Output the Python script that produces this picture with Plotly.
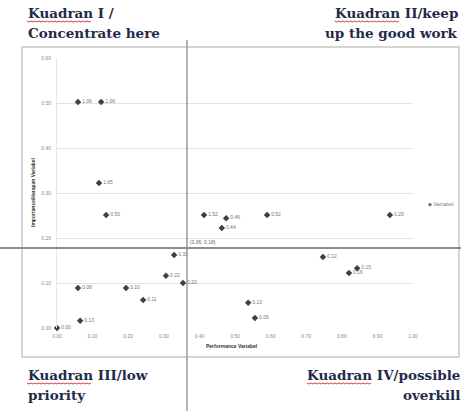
import plotly.graph_objects as go

# ---- data ----
perf = [0.059, 0.124, 0.118, 0.138, 0.413, 0.475, 0.463, 0.590, 0.935,
        0.329, 0.306, 0.354, 0.059, 0.194, 0.242, 0.065, 0.000,
        0.747, 0.820, 0.843, 0.537, 0.556]
imp = [0.502, 0.502, 0.322, 0.251, 0.251, 0.244, 0.222, 0.251, 0.251,
       0.162, 0.116, 0.100, 0.089, 0.089, 0.062, 0.016, 0.000,
       0.158, 0.122, 0.133, 0.056, 0.022]
point_labels = ["1.06", "1.06", "1.65", "0.50", "1.52", "0.46", "0.44", "0.52", "0.29",
                "0.32", "0.22", "0.20", "0.08", "0.10", "0.11", "0.13", "0.00",
                "0.12", "0.16", "0.15", "0.13", "0.05"]
mean_perf = 0.365
mean_imp = 0.178
mean_label = "(0.36, 0.18)"
x_ticks = [0.0, 0.1, 0.2, 0.3, 0.4, 0.5, 0.6, 0.7, 0.8, 0.9, 1.0]
y_ticks = [0.0, 0.1, 0.2, 0.3, 0.4, 0.5, 0.6]
quadrant_lines = [["Kuadran I /", "Concentrate here"],
                  ["Kuadran II/keep", "up the good work"],
                  ["Kuadran III/low", "priority"],
                  ["Kuadran IV/possible", "overkill"]]
series_name = "Variabel"
x_title = "Performance Variabel"
y_title = "Importance/Harapan Variabel"

X_RANGE = [0, 1.0]
Y_RANGE = [0, 0.6]

W, H = 461, 411
ML, MR, MT, MB = 57, 48, 58, 83
PW, PH = W - ML - MR, H - MT - MB


def px(xpix):
    return (xpix - ML) / PW


def py(ypix):
    return (H - MB - ypix) / PH


fig = go.Figure()
fig.add_trace(go.Scatter(
    x=perf, y=imp, mode="markers+text", name=series_name,
    text=point_labels, textposition="middle right",
    textfont=dict(size=5, color="#777777", family="Liberation Sans"),
    marker=dict(symbol="diamond", size=5, color="#404040"),
    cliponaxis=False,
))
fig.add_trace(go.Scatter(
    x=[mean_perf], y=[mean_imp], mode="markers+text", showlegend=False,
    text=[mean_label], textposition="top right",
    textfont=dict(size=5, color="#666666", family="Liberation Sans"),
    marker=dict(symbol="diamond", size=3, color="#666666"),
    cliponaxis=False,
))

shapes = []
# outer chart box
shapes.append(dict(type="rect", xref="paper", yref="paper",
                   x0=px(22), x1=px(459), y0=py(357), y1=py(47),
                   line=dict(color="#c8c8c8", width=1.5), fillcolor="rgba(0,0,0,0)", layer="below"))
# quadrant divider lines through the means
xm = (mean_perf - X_RANGE[0]) / (X_RANGE[1] - X_RANGE[0])
ym = (mean_imp - Y_RANGE[0]) / (Y_RANGE[1] - Y_RANGE[0])
shapes.append(dict(type="line", xref="paper", yref="paper",
                   x0=px(0), x1=px(461), y0=ym, y1=ym,
                   line=dict(color="#8c8c8c", width=2)))
shapes.append(dict(type="line", xref="paper", yref="paper",
                   x0=xm, x1=xm, y0=py(411), y1=py(40),
                   line=dict(color="#9a9a9a", width=1.5)))

FS = 13.5
title_font = dict(family="DejaVu Serif", size=FS, color="#1f2a4a")
# (left/right anchor x, anchor side, centre y of line 1, centre y of line 2)
placements = [(27, "left", 13, 33), (459, "right", 13, 33),
              (27, "left", 375, 395), (461, "right", 375, 395)]
annotations = []
for lines, (ax, side, y1, y2) in zip(quadrant_lines, placements):
    for txt, yy in zip(lines, (y1, y2)):
        annotations.append(dict(text="<b>%s</b>" % txt, xref="paper", yref="paper",
                                x=px(ax), y=py(yy), xanchor=side, yanchor="middle",
                                showarrow=False, font=title_font, borderpad=0))

# red spell-check squiggle under the word "Kuadran"
word_w = 4.6 * FS
first_w = {"Kuadran I /": 6.4 * FS, "Kuadran II/keep": 9.2 * FS,
           "Kuadran III/low": 9.0 * FS, "Kuadran IV/possible": 11.4 * FS}
for lines, (ax, side, y1, y2) in zip(quadrant_lines, placements):
    first = lines[0]
    a = ax if side == "left" else ax - first_w[first]
    b = a + word_w
    yy = y1 + 8
    path = "M %f %f" % (px(a), py(yy))
    k = 0
    xx = a
    while xx < b:
        xx += 2
        k += 1
        path += " L %f %f" % (px(xx), py(yy + (1 if k % 2 else 0)))
    shapes.append(dict(type="path", xref="paper", yref="paper", path=path,
                       line=dict(color="#d04040", width=1)))

small = dict(size=5, color="#333333", family="Liberation Sans")
annotations += [
    dict(text="<b>%s</b>" % x_title, xref="paper", yref="paper",
         x=px(232), y=py(346), xanchor="center", yanchor="middle",
         showarrow=False, font=small),
    dict(text="<b>%s</b>" % y_title, xref="paper", yref="paper",
         x=px(33), y=py(192), xanchor="center", yanchor="middle", textangle=-90,
         showarrow=False, font=small),
    # legend entry (drawn as text to sit where the original legend sits)
    dict(text="◆ %s" % series_name, xref="paper", yref="paper",
         x=px(426), y=py(204), xanchor="left", yanchor="middle",
         showarrow=False, font=dict(size=5, color="#666666", family="DejaVu Sans")),
]

fig.update_layout(
    width=W, height=H, autosize=False,
    margin=dict(l=ML, r=MR, t=MT, b=MB, autoexpand=False),
    paper_bgcolor="white", plot_bgcolor="white",
    shapes=shapes, annotations=annotations,
    showlegend=False,
    xaxis=dict(range=X_RANGE, tickvals=x_ticks, tickformat=".2f",
               showgrid=False, zeroline=False, showline=False,
               tickfont=dict(size=5, color="#888888", family="Liberation Sans"),
               ticks="", ticklabelstandoff=4),
    yaxis=dict(range=Y_RANGE, tickvals=y_ticks, tickformat=".2f",
               showgrid=True, gridcolor="#e2e2e2", gridwidth=1,
               zeroline=False, showline=True, linecolor="#e6e6e6",
               tickfont=dict(size=5, color="#888888", family="Liberation Sans"),
               ticks="", ticklabelstandoff=4),
)

fig.write_html("out.html", config={"displayModeBar": False},
               post_script="document.body.style.margin='0';document.body.style.overflow='hidden';")
